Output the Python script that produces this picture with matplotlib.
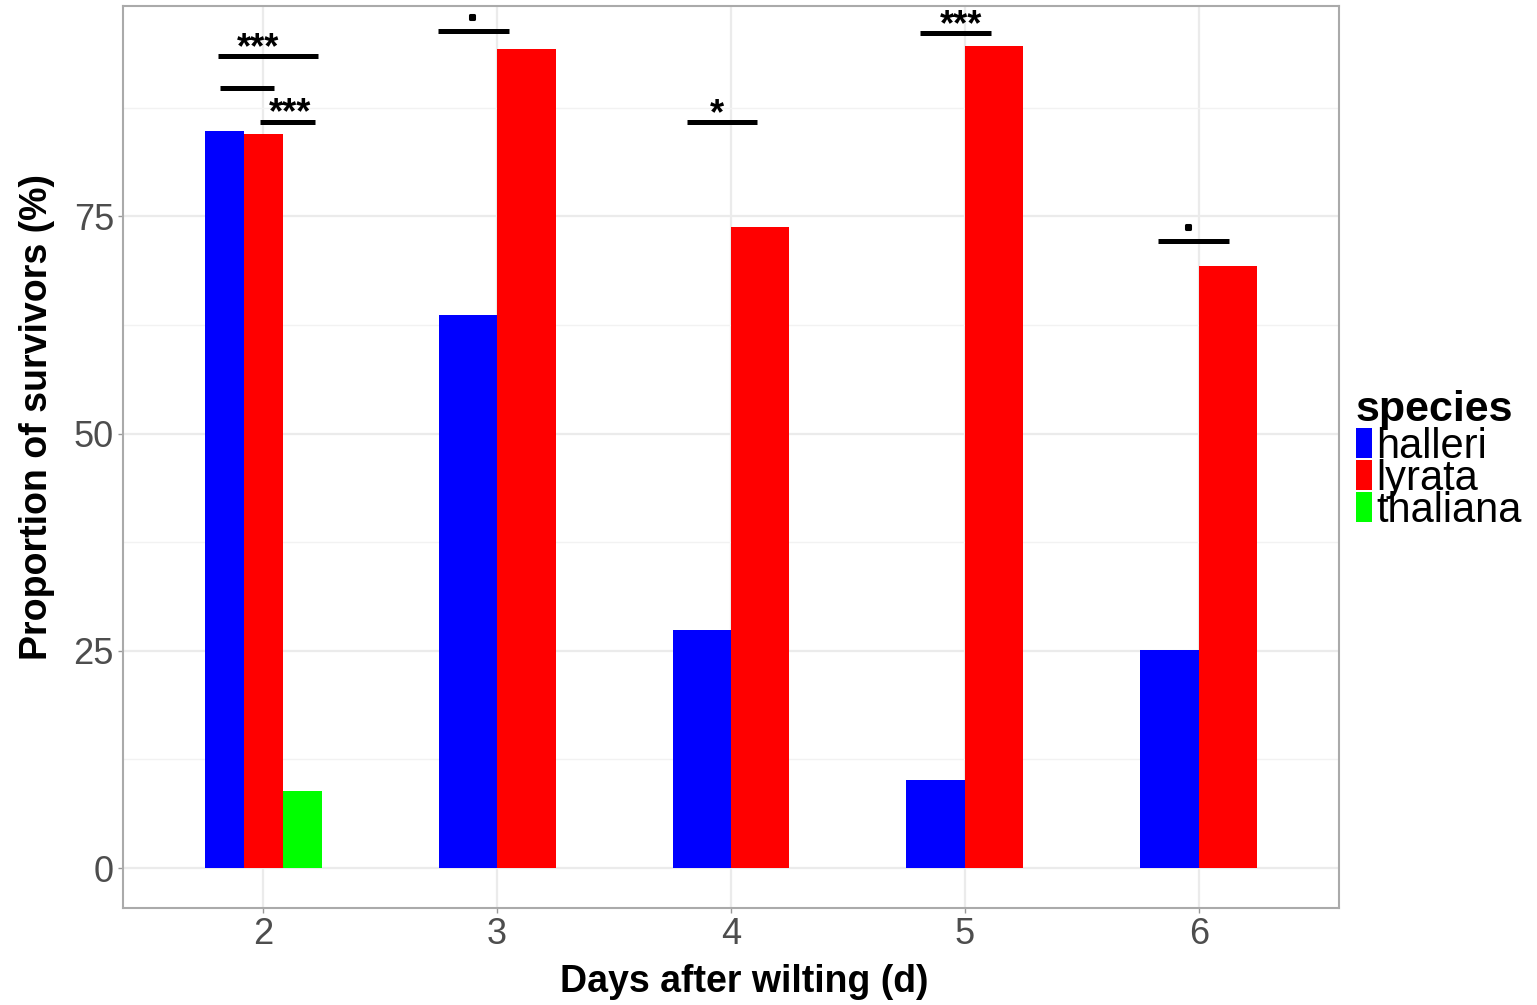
import matplotlib
matplotlib.use("Agg")
import matplotlib.pyplot as plt
from matplotlib.patches import Rectangle
import matplotlib.patheffects as pe
import numpy as np

# ---- data ----
days = [2, 3, 4, 5, 6]
halleri = [84.8, 63.6, 27.4, 10.1, 25.1]
lyrata = [84.5, 94.2, 73.8, 94.6, 69.3]
thaliana_days = [2]
thaliana = [8.9]
species = ["halleri", "lyrata", "thaliana"]
colors = ["#0000FF", "#FF0000", "#00FF00"]

# significance annotations
sig_x0 = [1.808, 1.816, 1.987, 2.748, 3.812, 4.808, 5.825]
sig_x1 = [2.235, 2.047, 2.222, 3.051, 4.111, 5.111, 6.128]
sig_y = [93.4, 89.8, 85.9, 96.3, 85.8, 96.1, 72.1]
sig_label = ["***", "", "***", ".", "*", "***", "."]
sig_label_x = [1.979, 1.93, 2.115, 2.891, 3.940, 4.985, 5.955]

yticks = [0, 25, 50, 75]
yminor = [12.5, 37.5, 62.5, 87.5]

plt.rcParams['font.family'] = ['Liberation Sans', 'DejaVu Sans']

W, H = 1537, 1005
fig = plt.figure(figsize=(W / 100, H / 100), dpi=100)
L, R, T, B = 123, 1339, 6, 908
ax = fig.add_axes([L / W, (H - B) / H, (R - L) / W, (B - T) / H])

# bars with dodge
series = {
    "halleri": dict(zip(days, halleri)),
    "lyrata": dict(zip(days, lyrata)),
    "thaliana": dict(zip(thaliana_days, thaliana)),
}
total_w = 0.5
for d in days:
    present = [s for s in species if d in series[s]]
    n = len(present)
    w = total_w / n
    for i, s in enumerate(present):
        xc = d - total_w / 2 + w * (i + 0.5)
        ax.bar(xc, series[s][d], width=w, color=colors[species.index(s)],
               edgecolor="none", linewidth=0, zorder=3)

# significance lines and labels
for x0, x1, y, lab, lx in zip(sig_x0, sig_x1, sig_y, sig_label, sig_label_x):
    ax.plot([x0, x1], [y, y], color="black", lw=3.6, solid_capstyle="butt", zorder=4)
    if lab == ".":
        ax.annotate(lab, (lx, y), xytext=(0, 9.0), textcoords="offset points",
                    ha="center", va="baseline", fontsize=16, fontweight="bold",
                    family="DejaVu Sans", zorder=5,
                    path_effects=[pe.withStroke(linewidth=2.2, foreground="black")])
    elif lab:
        ax.annotate(lab, (lx, y), xytext=(0, -1.5), textcoords="offset points",
                    ha="center", va="baseline", fontsize=26, fontweight="bold",
                    zorder=5)

ax.set_xlim(1.40, 6.60)
ax.set_ylim(-4.6, 99.2)
ax.set_xticks(days)
ax.set_xticklabels([str(d) for d in days])
ax.set_yticks(yticks)
ax.set_yticks(yminor, minor=True)
ax.tick_params(axis="both", which="major", labelsize=26, labelcolor="#4D4D4D",
               color="#999999", length=3.5, width=1, pad=3)
ax.tick_params(axis="y", which="minor", length=0)
ax.grid(True, which="major", color="#EBEBEB", lw=1.6, zorder=0)
ax.grid(True, which="minor", axis="y", color="#F2F2F2", lw=1.0, zorder=0)
ax.set_axisbelow(True)
for sp in ax.spines.values():
    sp.set_color("#AAAAAA")
    sp.set_linewidth(1.5)

# axis titles
fig.text(744 / W, 1 - 992 / H, "Days after wilting (d)", ha="center", va="baseline",
         fontsize=27, fontweight="bold")
fig.text(37 / W, 1 - 417 / H, "Proportion of survivors (%)", ha="center", va="center",
         rotation=90, fontsize=27, fontweight="bold")

# legend (manual, overlapping like reference)
fig.text(1356 / W, 1 - 421 / H, "species", ha="left", va="baseline",
         fontsize=31, fontweight="bold")
key_tops = [428, 460, 492]
key_h = 30
for s, c, kt in zip(species, colors, key_tops):
    fig.patches.append(Rectangle((1356 / W, 1 - (kt + key_h) / H), 16 / W, key_h / H,
                                 transform=fig.transFigure, facecolor=c,
                                 edgecolor="none", zorder=1))
    fig.text(1376 / W, 1 - (kt + key_h) / H, s, ha="left", va="baseline",
             fontsize=30, zorder=2)

fig.savefig("out.png", dpi=100, facecolor="white")
